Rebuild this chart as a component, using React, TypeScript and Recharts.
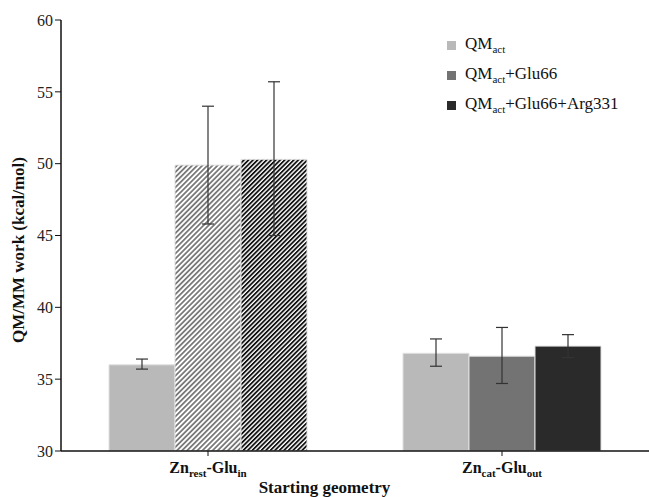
import React from "react";
import { Bar, BarChart, Cell, ErrorBar, XAxis, YAxis } from "recharts";

const categories = ["rest|in", "cat|out"];
const qmAct = [36.0, 36.8];
const qmActErr = [[0.3, 0.4], [0.9, 1.0]];
const qmGlu = [49.9, 36.6];
const qmGluErr = [[4.1, 4.1], [1.9, 2.0]];
const qmGluArg = [50.3, 37.3];
const qmGluArgErr = [[5.3, 5.4], [0.8, 0.8]];
const yTicks = [30, 35, 40, 45, 50, 55, 60];

const SERIES = [
  { key: "a", err: "aErr", label: "", fill: "#b9b9b9", hatch: "" },
  { key: "b", err: "bErr", label: "+Glu66", fill: "#737373", hatch: "url(#hatchGrey)" },
  { key: "c", err: "cErr", label: "+Glu66+Arg331", fill: "#2a2a2a", hatch: "url(#hatchBlack)" },
];

const data = categories.map((c, i) => ({
  cat: c,
  a: qmAct[i],
  aErr: qmActErr[i],
  b: qmGlu[i],
  bErr: qmGluErr[i],
  c: qmGluArg[i],
  cErr: qmGluArgErr[i],
}));

const FONT = "'Liberation Serif', serif";

function CatTick(props: any) {
  const { x, y, payload } = props;
  const [a, b] = String(payload.value).split("|");
  return (
    <text x={x} y={y + 15} textAnchor="middle" fontFamily={FONT} fontWeight="bold" fontSize={16} fill="#111">
      Zn
      <tspan fontSize={11} dy={4}>{a}</tspan>
      <tspan dy={-4}>-Glu</tspan>
      <tspan fontSize={11} dy={4}>{b}</tspan>
    </text>
  );
}

export default function App() {
  return (
    <div style={{ position: "absolute", left: 0, top: 0, width: 649, height: 497, background: "#fff", fontFamily: FONT }}>
      <svg width={0} height={0} style={{ position: "absolute" }}>
        <defs>
          <pattern id="hatchGrey" width="3.6" height="6" patternUnits="userSpaceOnUse" patternTransform="rotate(45)">
            <rect width="3.6" height="6" fill="#fff" />
            <rect width="1.8" height="6" fill="#7a7a7a" />
          </pattern>
          <pattern id="hatchBlack" width="3.2" height="6" patternUnits="userSpaceOnUse" patternTransform="rotate(45)">
            <rect width="3.2" height="6" fill="#fff" />
            <rect width="1.8" height="6" fill="#111" />
          </pattern>
        </defs>
      </svg>
      <BarChart
        width={649}
        height={497}
        data={data}
        margin={{ top: 20, right: 0, bottom: 0, left: 0 }}
        barCategoryGap="16%"
        barGap={0}
      >
        <XAxis
          dataKey="cat"
          height={46}
          tick={<CatTick />}
          tickSize={5}
          axisLine={{ stroke: "#111", strokeWidth: 1.5 }}
          tickLine={{ stroke: "#111" }}
          interval={0}
        />
        <YAxis
          domain={[30, 60]}
          ticks={yTicks}
          width={61}
          tickSize={6}
          axisLine={{ stroke: "#111", strokeWidth: 1.5 }}
          tickLine={{ stroke: "#111" }}
          tick={{ fill: "#222", fontSize: 16, fontFamily: FONT }}
          allowDataOverflow
        />
        {SERIES.map((s) => (
          <Bar key={s.key} dataKey={s.key} fill={s.fill} barSize={66} stroke="#e0e0e0" strokeWidth={1} isAnimationActive={false}>
            {data.map((d, i) => (
              <Cell key={i} fill={i === 0 && s.hatch ? s.hatch : s.fill} />
            ))}
            <ErrorBar dataKey={s.err} width={6} stroke="#333" strokeWidth={1.2} />
          </Bar>
        ))}
      </BarChart>
      <div
        style={{
          position: "absolute",
          left: 19,
          top: 250,
          transform: "translate(-50%, -50%) rotate(-90deg)",
          fontWeight: "bold",
          fontSize: 17,
          whiteSpace: "nowrap",
          color: "#111",
        }}
      >
        QM/MM work (kcal/mol)
      </div>
      <div
        style={{
          position: "absolute",
          left: 0,
          width: 649,
          top: 478,
          textAlign: "center",
          fontWeight: "bold",
          fontSize: 17,
          color: "#111",
        }}
      >
        Starting geometry
      </div>
      <div style={{ position: "absolute", left: 447, top: 30, fontSize: 17, color: "#111" }}>
        {SERIES.map((s) => (
          <div key={s.key} style={{ display: "flex", alignItems: "center", height: 30 }}>
            <span style={{ display: "inline-block", width: 9, height: 9, background: s.fill, marginRight: 9 }} />
            <span>
              QM<sub style={{ fontSize: 11 }}>act</sub>
              {s.label}
            </span>
          </div>
        ))}
      </div>
    </div>
  );
}
